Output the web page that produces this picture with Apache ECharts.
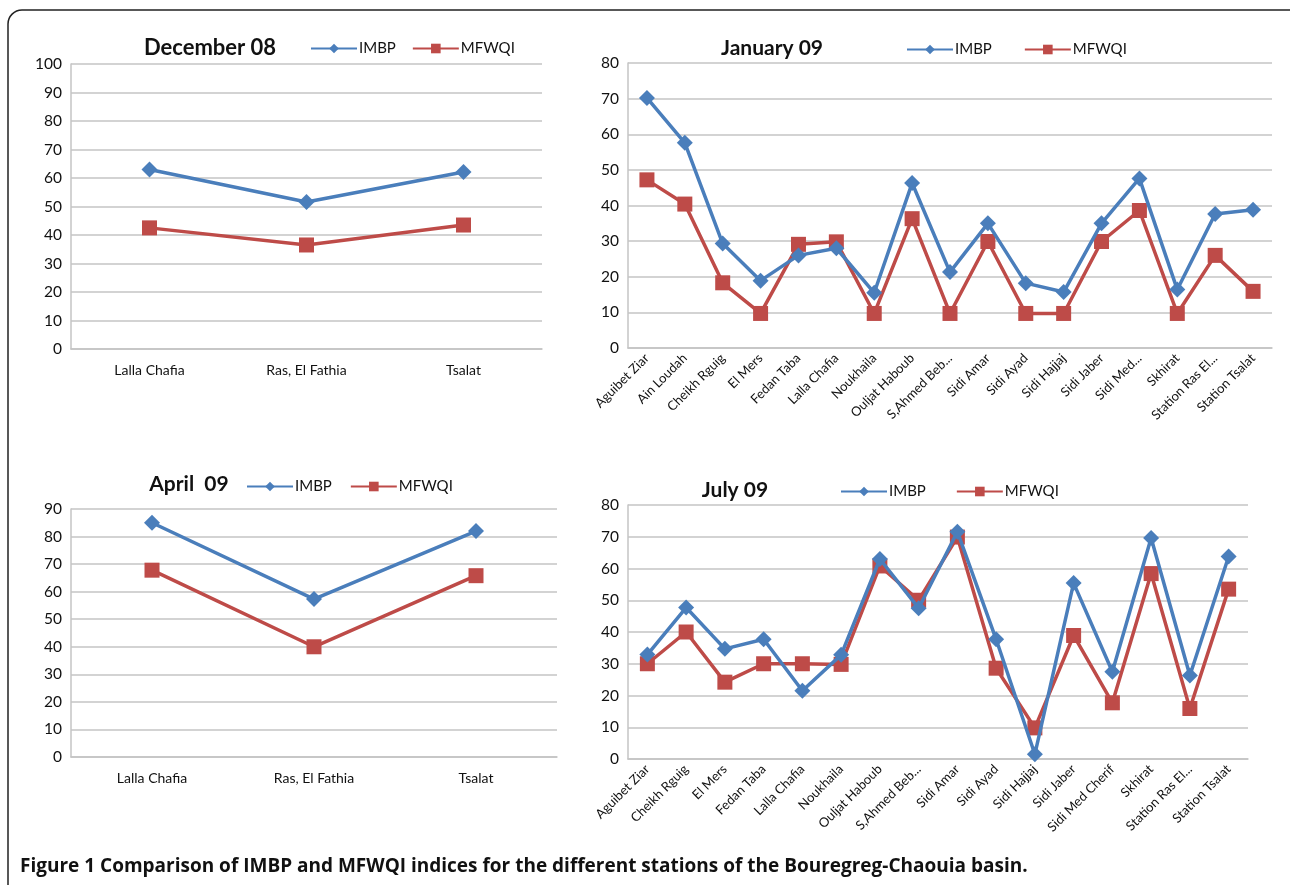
<!DOCTYPE html>
<html>
<head>
<meta charset="utf-8">
<script src="https://cdn.jsdelivr.net/npm/echarts@6/dist/echarts.min.js"></script>
<style>
html,body{margin:0;padding:0;background:#fff;}
#main{width:1290px;height:885px;}
</style>
</head>
<body>
<div id="main"></div>
<script>
const seriesNames = ['IMBP', 'MFWQI'];

const decCats = ['Lalla Chafia', 'Ras, El Fathia', 'Tsalat'];
const decIMBP = [63, 51.6, 62.1];
const decMFWQI = [42.5, 36.5, 43.5];
const decTicks = [0, 10, 20, 30, 40, 50, 60, 70, 80, 90, 100];

const janCats = ['Aguibet Ziar', 'Ain Loudah', 'Cheikh Rguig', 'El Mers', 'Fedan Taba', 'Lalla Chafia', 'Noukhaila', 'Ouljat Haboub', 'S,Ahmed Beb...', 'Sidi Amar', 'Sidi Ayad', 'Sidi Hajjaj', 'Sidi Jaber', 'Sidi Med...', 'Skhirat', 'Station Ras El...', 'Station Tsalat'];
const janIMBP = [70.2, 57.6, 29.3, 18.9, 26, 28, 15.5, 46.3, 21.3, 35, 18.2, 15.7, 35, 47.6, 16.4, 37.6, 38.8];
const janMFWQI = [47.2, 40.4, 18.3, 9.7, 29.1, 29.8, 9.7, 36.3, 9.7, 29.9, 9.7, 9.7, 29.9, 38.6, 9.7, 26, 15.9];
const janTicks = [0, 10, 20, 30, 40, 50, 60, 70, 80];

const aprCats = ['Lalla Chafia', 'Ras, El Fathia', 'Tsalat'];
const aprIMBP = [85, 57.3, 82];
const aprMFWQI = [67.8, 40, 65.8];
const aprTicks = [0, 10, 20, 30, 40, 50, 60, 70, 80, 90];

const julCats = ['Aguibet Ziar', 'Cheikh Rguig', 'El Mers', 'Fedan Taba', 'Lalla Chafia', 'Noukhaila', 'Ouljat Haboub', 'S,Ahmed Beb...', 'Sidi Amar', 'Sidi Ayad', 'Sidi Hajjaj', 'Sidi Jaber', 'Sidi Med Cherif', 'Skhirat', 'Station Ras El...', 'Station Tsalat'];
const julIMBP = [32.9, 47.7, 34.7, 37.7, 21.5, 32.8, 63, 47.5, 71.6, 37.7, 1.5, 55.4, 27.5, 69.6, 26.3, 63.8];
const julMFWQI = [30, 40, 24.2, 30, 30, 29.8, 60.8, 50, 69.9, 28.6, 9.8, 38.9, 17.7, 58.4, 15.9, 53.5];
const julTicks = [0, 10, 20, 30, 40, 50, 60, 70, 80];

const titles = ['December 08', 'January 09', 'April  09', 'July 09'];
const caption = 'Figure 1 Comparison of IMBP and MFWQI indices for the different stations of the Bouregreg-Chaouia basin.';

const BLUE = '#4a7ebb';
const RED = '#be4b48';
const GRID = '#c4c4c4';
const FONT = 'Lato, "Open Sans", sans-serif';

const panels = [
  {cats: decCats, a: decIMBP, b: decMFWQI, ticks: decTicks, grid: {left: 71, right: 748, top: 64, bottom: 536}, rotate: 0,
   title: {left: 205, top: 32, size: 22}, legend: {left: 305, top: 36, gap: 16}},
  {cats: janCats, a: janIMBP, b: janMFWQI, ticks: janTicks, grid: {left: 628, right: 18, top: 63, bottom: 537}, rotate: 45,
   title: {left: 767, top: 33, size: 21}, legend: {left: 901, top: 37, gap: 32}},
  {cats: aprCats, a: aprIMBP, b: aprMFWQI, ticks: aprTicks, grid: {left: 71, right: 733, top: 509, bottom: 128}, rotate: 0,
   title: {left: 184, top: 469, size: 21}, legend: {left: 241, top: 474, gap: 18}},
  {cats: julCats, a: julIMBP, b: julMFWQI, ticks: julTicks, grid: {left: 628, right: 42, top: 505, bottom: 126}, rotate: 45,
   title: {left: 730, top: 475, size: 21}, legend: {left: 835, top: 479, gap: 30}}
];

const option = {
  backgroundColor: '#fff',
  animation: false,
  title: [],
  legend: [],
  grid: [],
  xAxis: [],
  yAxis: [],
  series: [],
  graphic: [
    {type: 'rect', shape: {x: 8, y: 10, width: 1300, height: 900, r: 14}, style: {fill: 'none', stroke: '#222', lineWidth: 1.5}, z: 0, silent: true},
    {type: 'text', left: 20, top: 857, style: {text: caption, font: 'bold 19px "Open Sans", sans-serif', fill: '#111'}}
  ]
};

panels.forEach((p, i) => {
  option.grid.push(p.grid);
  const tMin = p.ticks[0], tMax = p.ticks[p.ticks.length - 1];
  option.xAxis.push({
    type: 'category', gridIndex: i, data: p.cats, boundaryGap: true,
    axisLine: {lineStyle: {color: GRID, width: 1.5}},
    axisTick: {show: false},
    axisLabel: {color: '#111', fontFamily: FONT, fontSize: p.rotate ? 13 : 14, rotate: p.rotate, interval: 0, margin: p.rotate ? 8 : 14}
  });
  option.yAxis.push({
    type: 'value', gridIndex: i, min: tMin, max: tMax, interval: p.ticks[1] - p.ticks[0],
    axisLine: {show: true, lineStyle: {color: GRID, width: 1.5}},
    axisTick: {show: false},
    splitLine: {lineStyle: {color: GRID, width: 1.5}},
    axisLabel: {color: '#111', fontFamily: FONT, fontSize: 15.5, margin: 9}
  });
  option.title.push({
    text: titles[i], left: p.title.left, top: p.title.top, textAlign: 'center',
    textStyle: {fontFamily: FONT, fontWeight: 'bold', fontSize: p.title.size, color: '#111'}
  });
  option.legend.push({
    data: seriesNames, left: p.legend.left, top: p.legend.top, itemWidth: 46, itemHeight: 12, itemGap: p.legend.gap,
    textStyle: {fontFamily: FONT, fontSize: 15, color: '#111', padding: [0, 0, 0, -3]}
  });
  option.series.push({
    name: 'IMBP', type: 'line', xAxisIndex: i, yAxisIndex: i, data: p.a,
    symbol: 'diamond', symbolSize: 16, lineStyle: {color: BLUE, width: 3.5}, itemStyle: {color: BLUE}, z: 3
  });
  option.series.push({
    name: 'MFWQI', type: 'line', xAxisIndex: i, yAxisIndex: i, data: p.b,
    symbol: 'rect', symbolSize: 15, lineStyle: {color: RED, width: 3.5}, itemStyle: {color: RED}, z: 2
  });
});

const chart = echarts.init(document.getElementById('main'), null, {renderer: 'canvas'});
chart.setOption(option);
</script>
</body>
</html>
